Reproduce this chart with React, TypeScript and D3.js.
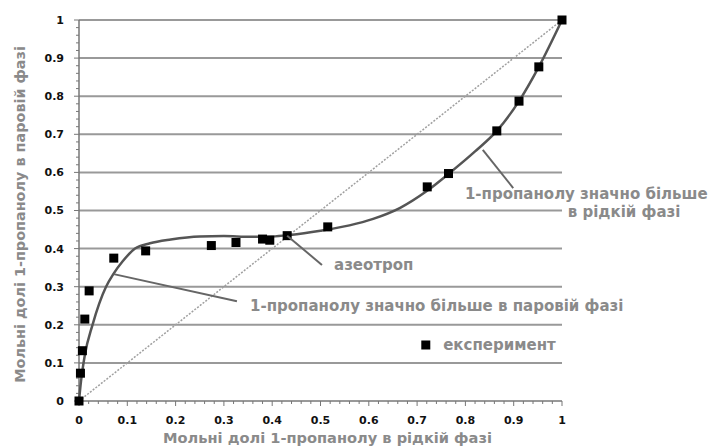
import * as d3 from "d3";

// експериментальні точки (x — рідка фаза, y — парова фаза)
const expX = [0, 0.003, 0.007, 0.012, 0.021, 0.072, 0.138, 0.274, 0.325, 0.38, 0.395, 0.431, 0.515, 0.721, 0.765, 0.865, 0.911, 0.952, 1];
const expY = [0, 0.073, 0.132, 0.215, 0.289, 0.375, 0.394, 0.408, 0.416, 0.425, 0.422, 0.434, 0.457, 0.562, 0.597, 0.709, 0.787, 0.877, 1];

// згладжена крива рівноваги
const fitX = [0, 0.004, 0.012, 0.028, 0.056, 0.071, 0.09, 0.116, 0.147, 0.19, 0.25, 0.3, 0.354, 0.4, 0.437, 0.5, 0.56, 0.609, 0.665, 0.72, 0.765, 0.82, 0.865, 0.911, 0.952, 1];
const fitY = [0, 0.05, 0.12, 0.2, 0.3, 0.333, 0.366, 0.4, 0.414, 0.424, 0.432, 0.433, 0.431, 0.432, 0.436, 0.447, 0.461, 0.478, 0.507, 0.551, 0.596, 0.655, 0.709, 0.787, 0.877, 1];

const ticks = [0, 0.1, 0.2, 0.3, 0.4, 0.5, 0.6, 0.7, 0.8, 0.9, 1];
const tickLabels = ["0", "0.1", "0.2", "0.3", "0.4", "0.5", "0.6", "0.7", "0.8", "0.9", "1"];
const minorTicks = d3.range(0, 50).map(i => i / 50).filter(v => Math.round(v * 50) % 5 !== 0);

const xTitle = "Мольні долі 1-пропанолу в рідкій фазі";
const yTitle = "Мольні долі 1-пропанолу в паровій фазі";
const legendLabel = "експеримент";

const W = 709, H = 448;
const margin = { top: 20, right: 147, bottom: 47, left: 79 };

const font = "'DejaVu Sans', Verdana, sans-serif";
const grey = "#8a8a8a";

export default function App() {
  const x = d3.scaleLinear().domain([0, 1]).range([margin.left, W - margin.right]);
  const y = d3.scaleLinear().domain([0, 1]).range([H - margin.bottom, margin.top]);

  const fit = fitX.map((v, i) => [v, fitY[i]] as [number, number]);
  const line = d3.line<[number, number]>()
    .x(d => x(d[0]))
    .y(d => y(d[1]))
    .curve(d3.curveMonotoneX);

  const x0 = x(0), x1 = x(1), y0 = y(0);
  const sq = 9;

  // виноски
  const lead = (a: number[], b: number[]) => (
    <line x1={x(a[0])} y1={y(a[1])} x2={x(b[0])} y2={y(b[1])} stroke="#666" strokeWidth={2} />
  );
  const note = { fill: grey, fontFamily: font, fontWeight: "bold" as const, fontSize: 15 };

  return (
    <svg width={W} height={H} style={{ position: "absolute", left: 0, top: 0, background: "#fff" }}>
      {/* горизонтальна сітка */}
      {ticks.filter(t => t > 0).map(t => (
        <line key={"g" + t} x1={x0} x2={x1} y1={y(t)} y2={y(t)} stroke="#999" strokeWidth={2} />
      ))}

      {/* осі */}
      <line x1={x0} x2={x0} y1={y(1)} y2={y0} stroke="#777" strokeWidth={1.5} />
      <line x1={x0} x2={x1} y1={y0} y2={y0} stroke="#777" strokeWidth={1.5} />
      {minorTicks.map(t => (
        <g key={"m" + t}>
          <line x1={x0 - 3} x2={x0} y1={y(t)} y2={y(t)} stroke="#777" strokeWidth={1} />
          <line x1={x(t)} x2={x(t)} y1={y0} y2={y0 + 3} stroke="#777" strokeWidth={1} />
        </g>
      ))}
      {ticks.map((t, i) => (
        <g key={"t" + t}>
          <line x1={x0 - 5} x2={x0} y1={y(t)} y2={y(t)} stroke="#777" strokeWidth={1} />
          <line x1={x(t)} x2={x(t)} y1={y0} y2={y0 + 5} stroke="#777" strokeWidth={1} />
          <text x={x0 - 15} y={y(t)} dy="0.36em" textAnchor="end" fontFamily={font} fontWeight="bold" fontSize={11} fill="#111">{tickLabels[i]}</text>
          <text x={x(t)} y={y0 + 23} textAnchor="middle" fontFamily={font} fontWeight="bold" fontSize={11} fill="#111">{tickLabels[i]}</text>
        </g>
      ))}

      {/* діагональ y = x */}
      <line x1={x(0)} y1={y(0)} x2={x(1)} y2={y(1)} stroke="#a0a0a0" strokeWidth={1.5} strokeDasharray="2,1.5" />

      {/* крива */}
      <path d={line(fit) ?? ""} fill="none" stroke="#555" strokeWidth={2.5} />

      {/* експеримент */}
      {expX.map((v, i) => (
        <rect key={"p" + i} x={x(v) - sq / 2} y={y(expY[i]) - sq / 2} width={sq} height={sq} fill="#000" />
      ))}

      {lead([0.431, 0.434], [0.503, 0.357])}
      <text x={x(0.528)} y={y(0.344)} {...note}>азеотроп</text>

      {lead([0.072, 0.333], [0.327, 0.262])}
      <text x={x(0.354)} y={y(0.236)} {...note}>1-пропанолу значно більше в паровій фазі</text>

      {lead([0.836, 0.659], [0.899, 0.559])}
      <text x={x(0.799)} y={y(0.53)} {...note}>1-пропанолу значно більше</text>
      <text x={x(1.012)} y={y(0.483)} {...note}>в рідкій фазі</text>

      <rect x={x(0.718) - sq / 2} y={y(0.147) - sq / 2} width={sq} height={sq} fill="#000" />
      <text x={x(0.754)} y={y(0.134)} {...note}>{legendLabel}</text>

      {/* підписи осей */}
      <text x={(x0 + x1) / 2 + 7} y={443} textAnchor="middle" fill={grey} fontFamily={font} fontWeight="bold" fontSize={14.6}>{xTitle}</text>
      <text transform={`translate(25, ${(y(0) + y(1)) / 2 + 4}) rotate(-90)`} textAnchor="middle" fill={grey} fontFamily={font} fontWeight="bold" fontSize={14.4}>{yTitle}</text>
    </svg>
  );
}
